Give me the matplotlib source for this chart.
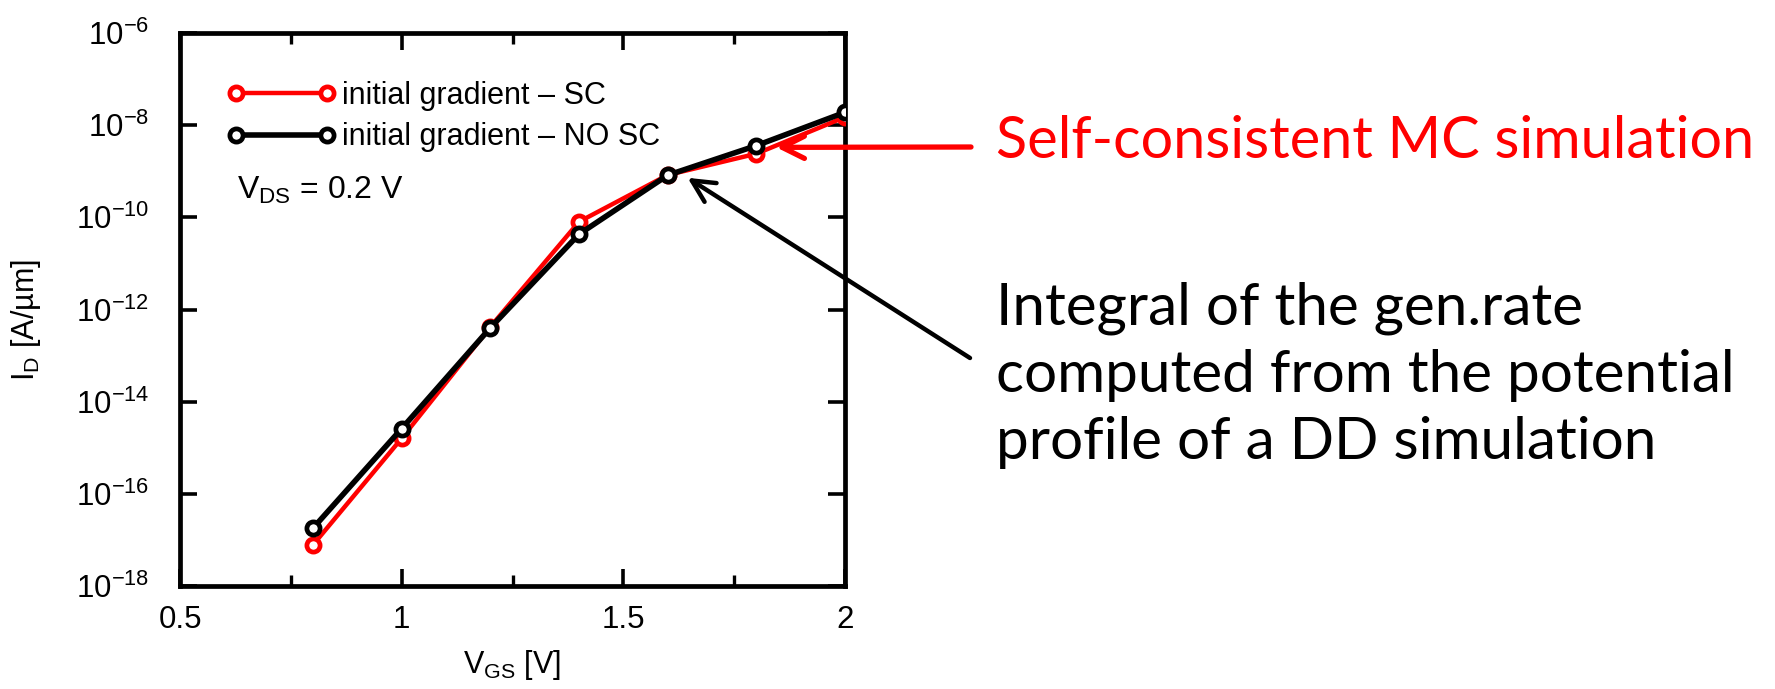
import numpy as np
import matplotlib
matplotlib.use("Agg")
import matplotlib.pyplot as plt
from matplotlib.ticker import FixedLocator, MultipleLocator, NullLocator, FixedFormatter

plt.rcParams['font.family'] = ['Liberation Sans', 'DejaVu Sans']
plt.rcParams['mathtext.fontset'] = 'custom'
plt.rcParams['mathtext.rm'] = 'Liberation Sans'
plt.rcParams['mathtext.it'] = 'Liberation Sans'

# gate voltage sweep
vgs = [0.8, 1.0, 1.2, 1.4, 1.6, 1.8, 2.0]
# drain current, self-consistent MC
id_sc = [7.8e-18, 1.6e-15, 4.2e-13, 8.0e-11, 8.3e-10, 2.4e-9, 1.5e-8]
# drain current, non self-consistent
id_nosc = [1.8e-17, 2.6e-15, 4.0e-13, 4.3e-11, 8.2e-10, 3.6e-9, 1.9e-8]

ytick_exp = [-18, -16, -14, -12, -10, -8, -6]
xticks = [0.5, 1, 1.5, 2]
xtick_labels = ['0.5', '1', '1.5', '2']

W, H = 1775, 689
fig = plt.figure(figsize=(W / 100, H / 100), dpi=100)
ax = fig.add_axes([180 / W, 1 - 586 / H, 665 / W, 553 / H])

ax.plot(vgs, id_sc, color='#ff0000', lw=3.2, marker='o', ms=9.5, mfc='white',
        mec='#ff0000', mew=3.4, label='initial gradient \u2013 SC', zorder=3)
ax.plot(vgs, id_nosc, color='black', lw=4.0, marker='o', ms=9.5, mfc='white',
        mec='black', mew=3.4, label='initial gradient \u2013 NO SC', zorder=4)

ax.set_yscale('log')
ax.set_xlim(0.5, 2.0)
ax.set_ylim(1e-18, 1e-6)
ax.yaxis.set_major_locator(FixedLocator([10.0 ** e for e in ytick_exp]))
ax.yaxis.set_major_formatter(FixedFormatter([r'$10^{%d}$' % e for e in ytick_exp]))
ax.yaxis.set_minor_locator(NullLocator())
ax.xaxis.set_major_locator(FixedLocator(xticks))
ax.xaxis.set_major_formatter(FixedFormatter(xtick_labels))
ax.xaxis.set_minor_locator(MultipleLocator(0.25))

for s in ax.spines.values():
    s.set_linewidth(3.4)
ax.tick_params(which='major', direction='in', length=12, width=2.6,
               top=True, right=True, labelsize=22.5)
ax.tick_params(axis='y', which='major', pad=22)
ax.tick_params(axis='x', which='major', pad=14)
ax.tick_params(which='minor', direction='in', length=8, width=2.4,
               top=True, right=True)

ax.set_xlabel('V$_\\mathrm{GS}$ [V]', fontsize=22, labelpad=9)
ax.set_ylabel('I$_\\mathrm{D}$ [A/\u00b5m]', fontsize=22)
ax.yaxis.set_label_coords(-0.206, 0.481)

ax.legend(loc='upper left', bbox_to_anchor=(0.071, 0.914), frameon=False,
          numpoints=2, handlelength=3.55, handletextpad=0.2, fontsize=22,
          labelspacing=0.39, borderpad=0, borderaxespad=0)
ax.text(0.085, 0.715, 'V$_\\mathrm{DS}$ = 0.2 V', transform=ax.transAxes,
        fontsize=23, va='center', ha='left')

# callouts on the right
fig.text(996 / W, 1 - 141 / H, 'Self-consistent MC simulation', color='#ff0000',
         fontsize=41.5, family='Lato', va='center', ha='left')
fig.text(996 / W, 1 - 375 / H,
         'Integral of the gen.rate\ncomputed from the potential\nprofile of a DD simulation',
         color='black', fontsize=42, family='Lato', va='center', ha='left',
         linespacing=1.33)

ax.annotate('', xy=(1.845, 3.3e-9), xycoords='data',
            xytext=(971 / W, 1 - 147 / H), textcoords='figure fraction',
            arrowprops=dict(arrowstyle='->', color='#ff0000', lw=3.8,
                            mutation_scale=40, shrinkA=0, shrinkB=0),
            annotation_clip=False)
ax.annotate('', xy=(1.645, 7.2e-10), xycoords='data',
            xytext=(970 / W, 1 - 358 / H), textcoords='figure fraction',
            arrowprops=dict(arrowstyle='->', color='black', lw=3.2,
                            mutation_scale=40, shrinkA=0, shrinkB=0),
            annotation_clip=False)

fig.savefig('out.png', dpi=100)
